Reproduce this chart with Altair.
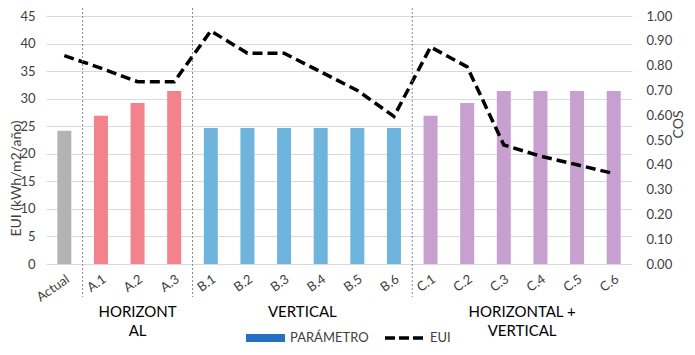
import altair as alt
import pandas as pd

categories = ["Actual", "A.1", "A.2", "A.3", "B.1", "B.2", "B.3", "B.4", "B.5", "B.6",
              "C.1", "C.2", "C.3", "C.4", "C.5", "C.6"]
groups = ["Actual", "A", "A", "A", "B", "B", "B", "B", "B", "B",
          "C", "C", "C", "C", "C", "C"]
eui_values = [24.2, 26.9, 29.2, 31.4, 24.7, 24.7, 24.7, 24.7, 24.7, 24.7,
              26.9, 29.2, 31.4, 31.4, 31.4, 31.4]
cos_values = [0.84, 0.79, 0.735, 0.735, 0.94, 0.85, 0.85, 0.775, 0.70, 0.595,
              0.875, 0.795, 0.48, 0.435, 0.40, 0.365]
group_names = ["Actual", "A", "B", "C"]
group_colors = ["#b3b3b3", "#f2828c", "#6eb4dc", "#c7a0cf"]
separator_cats = ["A.1", "B.1", "C.1"]
label_a_cats = ["A.2"]
label_a_text = ["HORIZONT\nAL"]
label_bc_cats = ["B.3", "C.3"]
label_bc_text = ["VERTICAL", "HORIZONTAL +\nVERTICAL"]
legend_labels = ["PARÁMETRO", "EUI"]

df = pd.DataFrame({"cat": categories, "grp": groups, "eui": eui_values, "cos": cos_values})
sep_df = pd.DataFrame({"cat": separator_cats})
la_df = pd.DataFrame({"cat": label_a_cats, "label": label_a_text})
lbc_df = pd.DataFrame({"cat": label_bc_cats, "label": label_bc_text})
one = pd.DataFrame({"k": [0]})

TXT = "#404040"
xscale = alt.Scale(domain=categories, paddingInner=0, paddingOuter=0)
xaxis = alt.Axis(title=None, labels=False, domain=False, ticks=False)


def xenc(bp=0.5):
    return alt.X("cat:N", scale=xscale, sort=categories, axis=xaxis, bandPosition=bp)


bars = alt.Chart(df).mark_bar(size=14).encode(
    x=xenc(),
    y=alt.Y("eui:Q", scale=alt.Scale(domain=[0, 45], nice=False),
            axis=alt.Axis(values=list(range(0, 50, 5)), grid=True, gridColor="#d9d9d9",
                          domain=False, ticks=False, labelPadding=11, labelFontSize=13,
                          labelColor=TXT, title="EUI (kWh/m2/año)", titleFontSize=14,
                          titleFontWeight="normal", titleColor=TXT, titleX=-30, titleY=162,
                          titleAngle=270, titleAlign="center", titleBaseline="middle")),
    color=alt.Color("grp:N", scale=alt.Scale(domain=group_names, range=group_colors), legend=None),
)

line = alt.Chart(df).mark_line(color="black", strokeWidth=3.5, strokeDash=[10, 5]).encode(
    x=xenc(),
    y=alt.Y("cos:Q", scale=alt.Scale(domain=[0, 1], nice=False),
            axis=alt.Axis(orient="right", values=[i / 10 for i in range(11)], format=".2f",
                          grid=False, domain=False, ticks=False, labelPadding=14,
                          labelFontSize=13, labelColor=TXT, title="COS", titleFontSize=14,
                          titleFontWeight="normal", titleColor=TXT, titleX=46, titleY=108,
                          titleAngle=270, titleAlign="center", titleBaseline="middle")),
)

xlabels = alt.Chart(df).mark_text(angle=325, align="right", baseline="middle", fontSize=13,
                                  color=TXT).encode(
    x=xenc(0.6), y=alt.value(262), text="cat:N",
)

seps = alt.Chart(sep_df).mark_rule(color="#8a8a8a", strokeWidth=1, strokeDash=[2, 2]).encode(
    x=xenc(0), y=alt.value(-8), y2=alt.value(281),
)

lab_a = alt.Chart(la_df).mark_text(lineBreak="\n", fontSize=15, color="black", baseline="top",
                                   lineHeight=19).encode(
    x=xenc(0.5), y=alt.value(289), text="label:N",
)
lab_bc = alt.Chart(lbc_df).mark_text(lineBreak="\n", fontSize=15, color="black", baseline="top",
                                     lineHeight=19).encode(
    x=xenc(1), y=alt.value(289), text="label:N",
)

leg_rect = alt.Chart(one).mark_rect(color="#2570c4").encode(
    x=alt.value(200), x2=alt.value(239), y=alt.value(318), y2=alt.value(326))
leg_t1 = alt.Chart(one).mark_text(text=legend_labels[0], align="left", baseline="middle",
                                  fontSize=13, color=TXT).encode(x=alt.value(244), y=alt.value(322))
leg_line = alt.Chart(one).mark_rule(color="black", strokeWidth=3.5, strokeDash=[10, 4]).encode(
    x=alt.value(339), x2=alt.value(377), y=alt.value(322))
leg_t2 = alt.Chart(one).mark_text(text=legend_labels[1], align="left", baseline="middle",
                                  fontSize=13, color=TXT).encode(x=alt.value(384), y=alt.value(322))

chart = alt.layer(bars, line, xlabels, seps, lab_a, lab_bc, leg_rect, leg_t1, leg_line, leg_t2).resolve_scale(
    y="independent"
).properties(
    width=586, height=248,
    autosize=alt.AutoSizeParams(type="none"),
    padding={"left": 38, "top": 8, "right": 55, "bottom": 82},
).configure(font="Lato").configure_view(stroke=None)

chart.save("out.html", embed_options={"renderer": "svg", "actions": False})
